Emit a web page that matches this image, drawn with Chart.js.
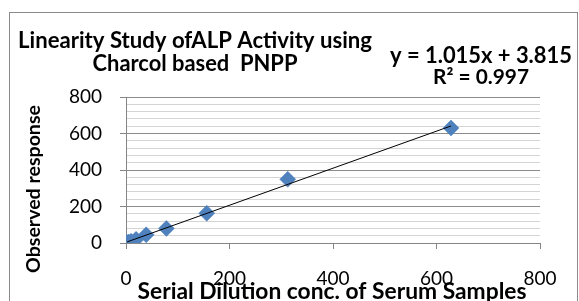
<!DOCTYPE html>
<html><head><meta charset="utf-8">
<script src="https://cdn.jsdelivr.net/npm/chart.js@4"></script>
<style>html,body{margin:0;padding:0;background:#fff}#w{width:579px;height:301px}</style>
</head>
<body><div id="w"><canvas id="c" width="579" height="301"></canvas></div>
<script>
// Data
const concentrations = [2.4, 4.9, 9.8, 19.5, 39, 78, 156, 312.5, 628];
const responses      = [2, 5, 10, 20, 45, 80, 163, 349, 630];
const xTickValues = [0, 200, 400, 600, 800];
const yTickValues = [0, 200, 400, 600, 800];
const trendSlope = 1.015;
const trendIntercept = 3.815;
const chartTitleLines = ['Linearity Study ofALP Activity using', 'Charcol based  PNPP'];
const equationLines = ['y = 1.015x + 3.815', 'R\u00B2 = 0.997'];
const xAxisTitle = 'Serial Dilution conc. of Serum Samples';
const yAxisTitle = 'Observed response';

const FONT = 'Lato, "Open Sans", sans-serif';
const majorStep = yTickValues[1] - yTickValues[0];

const points = concentrations.map((x, i) => ({x: x, y: responses[i]}));
const xMin = Math.min(...concentrations), xMax = Math.max(...concentrations);
const trend = [xMin, xMax].map(x => ({x: x, y: trendSlope * x + trendIntercept}));

function fitText(ctx, text, cx, cy, target, weight, rot) {
  ctx.save();
  ctx.font = weight + ' 20px ' + FONT;
  const w = ctx.measureText(text).width;
  const size = 20 * target / w;
  ctx.font = weight + ' ' + size.toFixed(2) + 'px ' + FONT;
  ctx.fillStyle = '#000';
  ctx.textAlign = 'center';
  ctx.textBaseline = 'middle';
  ctx.translate(cx, cy);
  if (rot) ctx.rotate(-Math.PI / 2);
  ctx.fillText(text, 0, 0);
  ctx.restore();
}

const decor = {
  id: 'decor',
  beforeDraw(chart) {
    const ctx = chart.ctx;
    ctx.save();
    ctx.fillStyle = '#fff';
    ctx.fillRect(0, 0, chart.width, chart.height);
    ctx.strokeStyle = '#8a8a8a';
    ctx.lineWidth = 1;
    ctx.strokeRect(9.5, 12.5, 568, 300);
    ctx.restore();
  },
  afterDraw(chart) {
    const ctx = chart.ctx;
    fitText(ctx, chartTitleLines[0], 195, 41, 354, 'bold');
    fitText(ctx, chartTitleLines[1], 195, 64, 205, 'bold');
    fitText(ctx, equationLines[0], 481, 56, 182, 'bold');
    fitText(ctx, equationLines[1], 481, 77, 96, 'bold');
    fitText(ctx, yAxisTitle, 34, 189, 168, 'bold', true);
    fitText(ctx, xAxisTitle, 332, 292, 389, 'bold');
  }
};

new Chart(document.getElementById('c'), {
  type: 'scatter',
  data: {
    datasets: [
      {
        label: 'Observed',
        data: points,
        pointStyle: 'rectRot',
        pointRadius: 8,
        backgroundColor: '#4F81BD',
        borderColor: '#4F81BD',
        borderWidth: 0.5,
        order: 1
      },
      {
        label: 'Linear',
        type: 'line',
        data: trend,
        borderColor: '#000',
        borderWidth: 1,
        pointRadius: 0,
        fill: false,
        order: 0
      }
    ]
  },
  options: {
    responsive: false,
    animation: false,
    devicePixelRatio: 1,
    layout: {padding: {top: 97, right: 39, left: 0, bottom: 0}},
    plugins: {legend: {display: false}, tooltip: {enabled: false}, title: {display: false}},
    scales: {
      x: {
        type: 'linear',
        min: xTickValues[0], max: xTickValues[xTickValues.length - 1],
        afterBuildTicks(scale) { scale.ticks = xTickValues.map(v => ({value: v})); },
        afterFit(scale) { scale.height = 58; },
        grid: {drawOnChartArea: false, drawTicks: true, tickLength: 6, tickColor: '#868686'},
        border: {color: '#868686'},
        ticks: {color: '#000', font: {family: FONT, size: 19}, padding: 18, maxRotation: 0}
      },
      y: {
        type: 'linear',
        min: yTickValues[0], max: yTickValues[yTickValues.length - 1],
        afterFit(scale) { scale.width = 126; },
        grid: {
          drawTicks: true, tickLength: 6,
          color: c => (c.tick && c.tick.value % majorStep === 0) ? '#8c8c8c' : '#d4d4d4',
          tickColor: c => (c.tick && c.tick.value % majorStep === 0) ? '#868686' : 'rgba(0,0,0,0)'
        },
        border: {color: '#868686'},
        ticks: {
          stepSize: 40,
          color: '#000', font: {family: FONT, size: 19}, padding: 18,
          autoSkip: false,
          callback: v => (yTickValues.includes(v) ? String(v) : '')
        }
      }
    }
  },
  plugins: [decor]
});
</script>
</body></html>
